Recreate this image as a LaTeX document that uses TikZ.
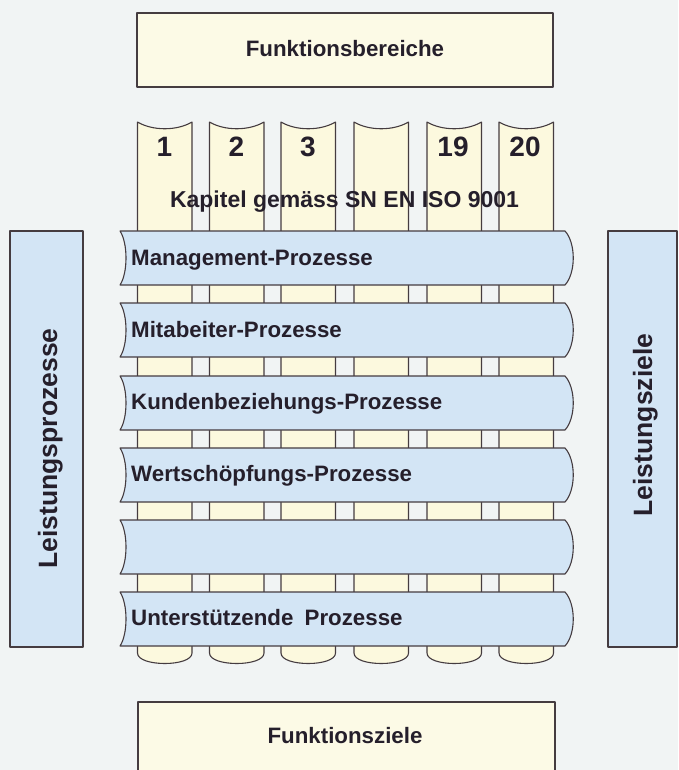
\documentclass[tikz,border=0pt]{standalone}
\usepackage{fontspec}
\setmainfont{Liberation Sans}
\definecolor{bgc}{HTML}{F1F4F4}
\definecolor{bandc}{HTML}{D3E5F5}
\definecolor{colc}{HTML}{FCF9DE}
\definecolor{boxc}{HTML}{FCFAE6}
\definecolor{linec}{HTML}{453C40}
\definecolor{txtc}{HTML}{251F2B}
\begin{document}
\begin{tikzpicture}[x=1pt,y=-1pt,
  outl/.style={draw=linec,line width=1.1pt,line join=round},
  colshape/.style={outl,fill=colc},
  bandshape/.style={outl,fill=bandc},
  yellowbox/.style={outl,fill=boxc},
  bluebox/.style={outl,fill=bandc},
  txt/.style={text=txtc,font=\bfseries\fontsize{22.3}{26}\selectfont,inner sep=0pt},
  numtxt/.style={text=txtc,font=\bfseries\fontsize{28}{32}\selectfont,inner sep=0pt},
  kaptxt/.style={text=txtc,font=\bfseries\fontsize{23}{27}\selectfont,inner sep=0pt},
  sidetxt/.style={text=txtc,font=\bfseries\fontsize{26.5}{30}\selectfont,inner sep=0pt,rotate=90}]
\useasboundingbox (0,0) rectangle (678,770);
\fill[bgc] (0,0) rectangle (678,770);
% columns
\foreach \l in {137.5,209.5,281,354,427,499}{
  \path[colshape] (\l,122) .. controls (\l+15,131) and (\l+39.5,131) .. (\l+54.5,122)
    -- (\l+54.5,653) .. controls (\l+54.5,667) and (\l,667) .. (\l,653) -- cycle;
}
% bands
\foreach \t in {231,303,376,448,520,592}{
  \path[bandshape] (120,\t) -- (565,\t) .. controls (576,\t+12) and (576,\t+42) .. (565,\t+54)
    -- (120,\t+54) .. controls (128,\t+42) and (128,\t+12) .. (120,\t) -- cycle;
}
% boxes
\path[yellowbox] (137,13) rectangle (553,87);
\path[yellowbox] (138,702) rectangle (555,780);
\path[bluebox] (10,231) rectangle (83,647);
\path[bluebox] (608,231) rectangle (677,647);
% texts
\node[txt,anchor=base] (fb) at (345,57) {Funktionsbereiche};
\node[txt,anchor=base] (fz) at (345,743) {Funktionsziele};
\node[numtxt,anchor=base] (n1) at (164.5,157) {1};
\node[numtxt,anchor=base] (n2) at (236.5,157) {2};
\node[numtxt,anchor=base] (n3) at (308,157) {3};
\node[numtxt,anchor=base] (n19) at (453,157) {19};
\node[numtxt,anchor=base] (n20) at (525,157) {20};
\node[kaptxt,anchor=base] (kap) at (344.5,207) {Kapitel gemäss SN EN ISO 9001};
\node[txt,anchor=base west] (p1) at (131,265) {Management-Prozesse};
\node[txt,anchor=base west] (p2) at (131,337) {Mitabeiter-Prozesse};
\node[txt,anchor=base west] (p3) at (131,409.5) {Kundenbeziehungs-Prozesse};
\node[txt,anchor=base west] (p4) at (131,481.5) {Wertschöpfungs-Prozesse};
\node[txt,anchor=base west] (p6) at (131,625.5) {Unterstützende\hspace{0.5em}Prozesse};
\node[sidetxt,anchor=base] (lp) at (57,448.5) {Leistungsprozesse};
\node[sidetxt,anchor=base] (lz) at (652,425) {Leistungsziele};
\end{tikzpicture}
\end{document}
